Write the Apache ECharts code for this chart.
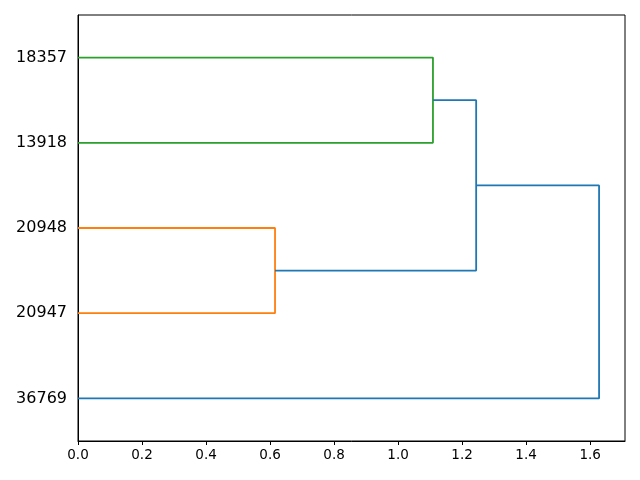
<!DOCTYPE html>
<html>
<head>
<meta charset="utf-8">
<script src="https://cdn.jsdelivr.net/npm/echarts@6/dist/echarts.min.js"></script>
<style>
  html, body { margin: 0; padding: 0; background: #fff; }
  #chart { width: 640px; height: 480px; }
</style>
</head>
<body>
<div id="chart"></div>
<script>
// leaf labels, bottom to top
const leaves = ['36769', '20947', '20948', '13918', '18357']
// links in scipy style: leaf positions (icoord) and merge distances (dcoord)
const icoord = [
  [15, 15, 25, 25],
  [35, 35, 45, 45],
  [20, 20, 40, 40],
  [5, 5, 30, 30]
]
const dcoord = [
  [0, 0.6156, 0.6156, 0],
  [0, 1.109, 1.109, 0],
  [0.6156, 1.244, 1.244, 1.109],
  [0, 1.628, 1.628, 1.244]
]
const linkColors = ['#ff7f0e', '#2ca02c', '#1f77b4', '#1f77b4']
const xTicks = [0, 0.2, 0.4, 0.6, 0.8, 1.0, 1.2, 1.4, 1.6]

const chart = echarts.init(document.getElementById('chart'), null, { renderer: 'canvas' })

const series = icoord.map((ys, i) => ({
  type: 'line',
  xAxisIndex: 0,
  yAxisIndex: 0,
  symbol: 'none',
  animation: false,
  lineStyle: { color: linkColors[i], width: 1.8 },
  data: ys.map((y, j) => [dcoord[i][j], y])
}))

chart.setOption({
  animation: false,
  grid: {
    left: 78, right: 15, top: 15, bottom: 39,
    outerBoundsMode: 'none',
    show: true, borderColor: '#000', borderWidth: 1, backgroundColor: 'transparent'
  },
  xAxis: {
    type: 'value',
    min: 0,
    max: 1.709,
    interval: 0.2,
    axisLine: { show: true, onZero: false, lineStyle: { color: '#000', width: 1 } },
    axisTick: { show: true, length: 4, lineStyle: { color: '#000' } },
    axisLabel: {
      color: '#000', fontSize: 13.5, fontFamily: 'DejaVu Sans', margin: 7,
      showMaxLabel: false,
      formatter: v => xTicks.some(t => Math.abs(t - v) < 1e-6) ? v.toFixed(1) : ''
    },
    splitLine: { show: false }
  },
  yAxis: [
    {
      type: 'value',
      min: 0,
      max: 50,
      show: false
    },
    {
      type: 'category',
      position: 'left',
      data: leaves,
      boundaryGap: true,
      axisLine: { show: true, lineStyle: { color: '#000', width: 1 } },
      axisTick: { show: false },
      axisLabel: { color: '#000', fontSize: 16, fontFamily: 'DejaVu Sans', margin: 11, padding: [2, 0, 0, 0] },
      splitLine: { show: false }
    }
  ],
  series: series
})
</script>
</body>
</html>
